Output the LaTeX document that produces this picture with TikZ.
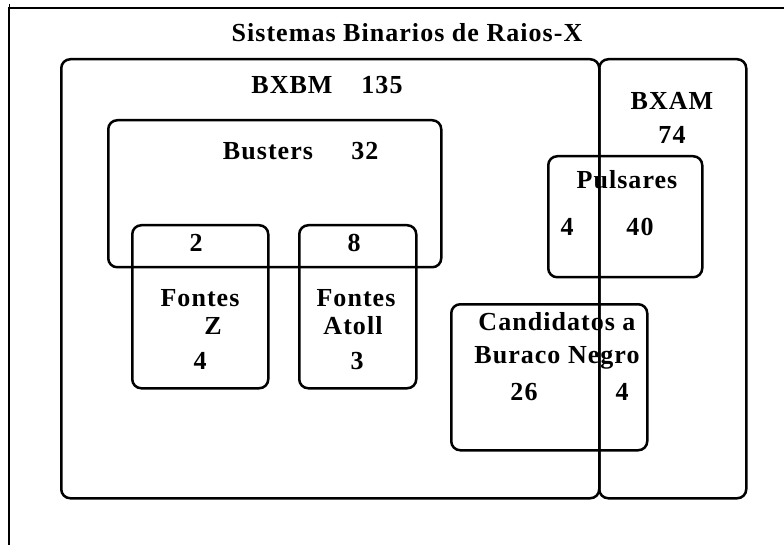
\documentclass[tikz,border=0pt]{standalone}
\usepackage{fontspec}
\setmainfont{Liberation Serif}[LetterSpace=4]
\usetikzlibrary{positioning}

\tikzset{
  box/.style={draw, rounded corners=9pt, line width=2.5pt, anchor=north west, inner sep=0pt},
  lbl/.style={font=\fontsize{26}{28}\selectfont\bfseries, inner sep=0pt}
}

\begin{document}
\begin{tikzpicture}[x=1pt,y=-1pt]
\useasboundingbox (0,0) rectangle (784,545);
% frame (top and left only)
\coordinate (fr) at (784,8);
\coordinate (fc) at (9,8);
\coordinate (fb) at (9,545);
\draw[line width=2.5pt] (fr) -- (fc) -- (fb);
\draw[line width=1pt] (fc) -- ++(0,-4);
\node[lbl] (title) at (407,33) {Sistemas Binarios de Raios-X};
% the big sets
\node[box, minimum width=538pt, minimum height=439pt] (bxbm) at (60,58) {};
\node[box, minimum width=147pt, minimum height=439pt] (bxam) at (598,58) {};
\node[lbl] (bxbmname) at (292,85) {BXBM};
\node[lbl] (bxbmnum) at (382,85) {135};
\node[lbl] (bxamname) at (672,101) {BXAM};
\node[lbl] (bxamnum) at (672,135) {74};
% busters and the two fontes
\node[box, minimum width=333pt, minimum height=147pt] (busters) at (107,119) {};
\node[lbl] (bustersname) at (268,151) {Busters};
\node[lbl] (bustersnum) at (365,151) {32};
\node[box, minimum width=136pt, minimum height=163pt] (fontesz) at (131,224) {};
\node[lbl] (zboth) at (196,243) {2};
\node[lbl] (zname) at (200,298) {Fontes};
\node[lbl] (zname2) at (213,326) {Z};
\node[lbl] (znum) at (200,361) {4};
\node[box, minimum width=117pt, minimum height=163pt] (atoll) at (298,224) {};
\node[lbl] (aboth) at (354,243) {8};
\node[lbl] (aname) at (356,298) {Fontes};
\node[lbl] (aname2) at (353,326) {Atoll};
\node[lbl] (anum) at (357,361) {3};
% pulsares and candidatos
\node[box, minimum width=154pt, minimum height=121pt] (pulsares) at (547,155) {};
\node[lbl] (pname) at (627,180) {Pulsares};
\node[lbl] (pbm) at (567,227) {4};
\node[lbl] (pam) at (640,227) {40};
\node[box, minimum width=196pt, minimum height=146pt] (candidatos) at (450,303) {};
\node[lbl] (cname) at (557,322) {Candidatos a};
\node[lbl] (cname2) at (557,358) {Buraco Negro};
\node[lbl] (cbm) at (524,392) {26};
\node[lbl] (cam) at (622,392) {4};
\end{tikzpicture}
\end{document}
